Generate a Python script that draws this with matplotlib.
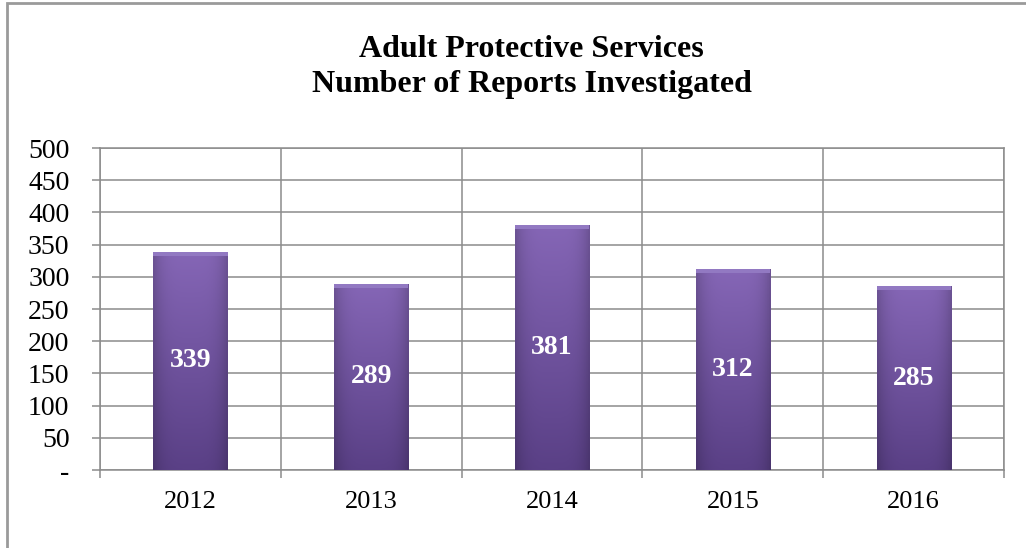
import numpy as np
import matplotlib.pyplot as plt
from matplotlib.patches import Rectangle
from matplotlib.ticker import FixedLocator

years = ['2012', '2013', '2014', '2015', '2016']
reports = [339, 289, 381, 312, 285]
ytick_vals = [0, 50, 100, 150, 200, 250, 300, 350, 400, 450, 500]
ytick_labels = ['-', '50', '100', '150', '200', '250', '300', '350', '400', '450', '500']

plt.rcParams['font.family'] = ['Liberation Serif', 'DejaVu Serif']

fig = plt.figure(figsize=(10.26, 5.48), dpi=100)
ax = fig.add_axes([0.0975, 0.1423, 0.8811, 0.5876])

grid_col = '#8c8c8c'
x = np.arange(len(years))
bars = ax.bar(x, reports, width=0.41, color='#6f52a0', edgecolor='none', zorder=2)

# gradient fill clipped to each bar
top_c = np.array([0x85, 0x66, 0xb6]) / 255
bot_c = np.array([0x5a, 0x40, 0x86]) / 255
ny, nx = 100, 40
t = np.linspace(0, 1, ny)[:, None, None]  # 0 bottom -> 1 top
grad = bot_c + (top_c - bot_c) * t
edge = 1 - 0.18 * np.abs(np.linspace(-1, 1, nx))[None, :, None] ** 4
img = np.clip(grad * edge, 0, 1)
for b in bars:
    x0, w, h = b.get_x(), b.get_width(), b.get_height()
    im = ax.imshow(img, extent=[x0, x0 + w, 0, h], origin='lower',
                   aspect='auto', zorder=3)
    im.set_clip_path(b)
    # light bevel at top
    ax.add_patch(Rectangle((x0, h - 6), w, 6, color='#9279c2', zorder=4, lw=0))
    ax.text(x0 + w / 2, h / 2, str(int(h)), ha='center', va='center',
            color='white', fontsize=20, fontweight='bold', zorder=5)

ax.set_xlim(-0.5, len(years) - 0.5)
ax.set_ylim(0, 500)
ax.set_yticks(ytick_vals)
ax.set_yticklabels(ytick_labels)
ax.set_xticks(x)
ax.set_xticklabels(years)
ax.xaxis.set_minor_locator(FixedLocator(np.arange(-0.5, len(years), 1.0)))

ax.tick_params(axis='y', length=6, width=1.1, color=grid_col, pad=16,
               labelsize=20)
ax.tick_params(axis='x', which='major', length=0, pad=15, labelsize=19)
ax.tick_params(axis='x', which='minor', length=6, width=1.1, color=grid_col)

ax.grid(axis='y', color=grid_col, lw=1.1, zorder=1)
ax.grid(axis='x', which='minor', color=grid_col, lw=1.1, zorder=1)
ax.set_axisbelow(True)
for s in ax.spines.values():
    s.set_color(grid_col)
    s.set_linewidth(1.1)

fig.text(0.518, 0.878, 'Adult Protective Services\nNumber of Reports Investigated',
         ha='center', va='center', fontsize=23, fontweight='bold',
         linespacing=1.3)

# outer chart frame (cropped at right and bottom)
fig.add_artist(Rectangle((7 / 1026, -0.1), 1.2, 1.1 - 3 / 548,
                         transform=fig.transFigure, fill=False,
                         edgecolor='#9a9a9a', lw=2))

fig.savefig('out.png', dpi=100)
